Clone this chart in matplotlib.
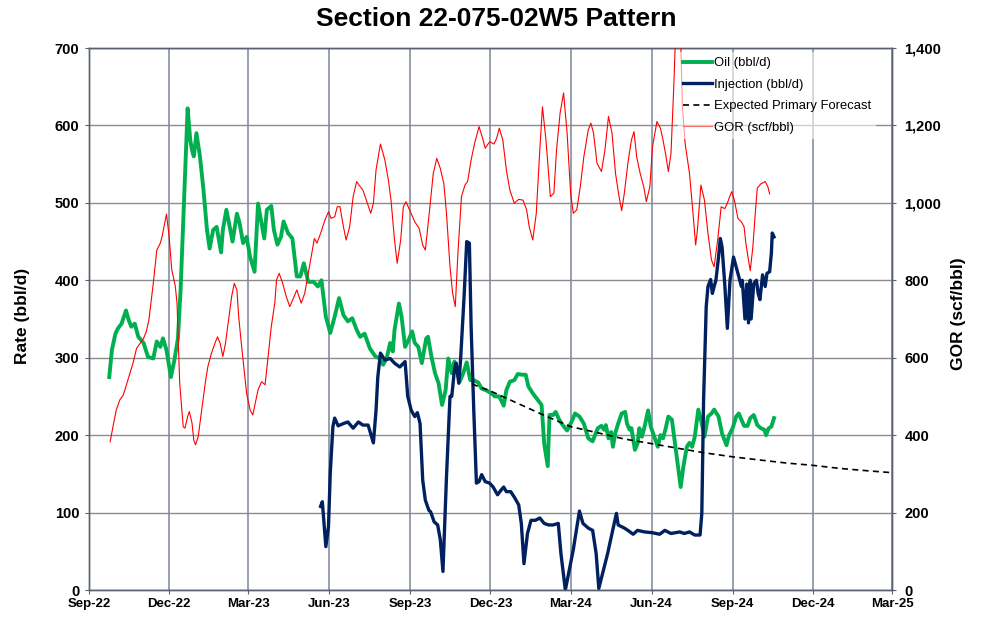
import matplotlib
matplotlib.use('Agg')
import matplotlib.pyplot as plt
import matplotlib.dates as mdates
from matplotlib.ticker import FuncFormatter, MultipleLocator
import pandas as pd

plt.rcParams['font.family'] = ['Liberation Sans', 'DejaVu Sans']

# ---- data (x values are days since 2022-09-01) ----
START = '2022-09-01'

oil_days = [23, 26, 30, 33, 37, 42, 45, 48, 52, 56,
            62, 67, 73, 77, 81, 84, 88, 93, 97, 101,
            104, 107, 110, 112, 115, 117, 119, 122, 126, 130,
            134, 137, 141, 145, 150, 152, 156, 159, 163, 168,
            171, 175, 179, 183, 188, 192, 199, 202, 207, 210,
            214, 218, 221, 226, 231, 236, 240, 244, 249, 255,
            260, 264, 269, 274, 279, 284, 289, 294, 299, 304,
            308, 313, 319, 325, 330, 334, 338, 342, 345, 347,
            352, 355, 359, 363, 367, 370, 374, 378, 383, 385,
            389, 393, 397, 401, 405, 408, 412, 415, 417, 421,
            425, 429, 433, 437, 442, 446, 451, 457, 461, 466,
            471, 474, 478, 483, 487, 492, 496, 499, 504, 510,
            514, 517, 521, 523, 527, 530, 534, 538, 543, 548,
            552, 557, 562, 567, 572, 576, 578, 582, 585, 587,
            590, 593, 595, 598, 601, 605, 609, 611, 614, 616,
            620, 623, 625, 628, 631, 635, 638, 642, 646, 649,
            652, 655, 658, 662, 665, 669, 672, 675, 679, 682,
            685, 688, 692, 695, 699, 703, 707, 710, 715, 719,
            724, 727, 731, 735, 738, 741, 744, 748, 751, 755,
            759, 763, 767, 769, 772, 775, 778]
oil_rate = [275, 310, 331, 338, 344, 361, 349, 340, 344, 327,
            319, 301, 299, 321, 314, 325, 310, 275, 297, 325,
            387, 474, 560, 622, 581, 568, 560, 590, 560, 517,
            465, 441, 465, 469, 436, 465, 491, 474, 450, 486,
            474, 448, 456, 430, 411, 499, 454, 491, 496, 465,
            446, 456, 476, 461, 454, 405, 405, 422, 398, 398,
            392, 400, 353, 332, 353, 377, 355, 347, 351, 336,
            327, 331, 312, 302, 299, 291, 299, 319, 308, 336,
            370, 353, 314, 323, 334, 319, 314, 293, 325, 327,
            301, 280, 267, 239, 258, 299, 280, 295, 288, 269,
            280, 294, 271, 271, 268, 260, 258, 254, 250, 250,
            238, 258, 269, 271, 279, 278, 278, 263, 254, 245,
            239, 189, 160, 226, 226, 230, 220, 213, 206, 217,
            228, 224, 215, 196, 192, 204, 209, 212, 207, 213,
            196, 204, 185, 204, 215, 228, 230, 215, 207, 209,
            181, 189, 209, 198, 211, 232, 211, 198, 185, 200,
            196, 209, 224, 220, 194, 159, 133, 159, 185, 190,
            185, 198, 233, 220, 198, 224, 228, 233, 224, 202,
            187, 200, 209, 224, 228, 220, 212, 212, 222, 226,
            213, 209, 207, 200, 209, 211, 222]

inj_days = [263, 265, 269, 272, 274, 277, 279, 283, 289, 294,
            300, 306, 311, 317, 323, 326, 328, 331, 336, 342,
            347, 353, 359, 362, 366, 370, 373, 376, 379, 382,
            386, 388, 392, 396, 399, 402, 406, 410, 412, 415,
            417, 420, 422, 426, 429, 432, 434, 437, 440, 443,
            446, 450, 455, 459, 464, 468, 471, 474, 479, 483,
            488, 491, 494, 498, 502, 507, 512, 517, 522, 527,
            533, 536, 541, 550, 557, 561, 567, 572, 576, 579,
            589, 599, 601, 608, 612, 618, 623, 631, 640, 648,
            654, 661, 671, 676, 682, 688, 694, 696, 698, 701,
            703, 706, 708, 710, 712, 715, 717, 719, 722, 725,
            728, 732, 737, 741, 742, 745, 747, 749, 751, 752,
            755, 758, 760, 762, 765, 768, 770, 773, 775, 776,
            778]
inj_rate = [108, 114, 56, 82, 151, 211, 222, 212, 215, 217,
            209, 217, 213, 213, 190, 232, 275, 306, 297, 299,
            293, 288, 295, 250, 232, 224, 229, 215, 142, 116,
            103, 101, 88, 84, 65, 24, 146, 250, 250, 284,
            293, 267, 297, 379, 450, 448, 340, 232, 138, 140,
            149, 140, 138, 133, 123, 129, 133, 127, 127, 120,
            110, 86, 34, 73, 90, 90, 93, 86, 84, 84,
            86, 47, 0, 52, 102, 86, 80, 77, 47, 2,
            47, 99, 84, 80, 77, 72, 77, 75, 74, 72,
            77, 73, 75, 73, 75, 71, 71, 99, 245, 366,
            392, 401, 383, 392, 400, 430, 454, 443, 396, 338,
            400, 430, 409, 392, 400, 350, 395, 345, 400, 350,
            396, 400, 383, 375, 407, 392, 409, 411, 435, 461,
            456]

fc_days = [435, 456, 487, 518, 547, 578, 608, 639, 669, 700,
           731, 761, 792, 822, 853, 884, 912]
fc_rate = [266, 257, 241, 225, 211, 203, 195, 189, 183, 177,
           172, 168, 164, 161, 157, 154, 151.5]

gor_days = [24, 28, 31, 35, 39, 43, 47, 50, 54, 58,
            62, 65, 68, 73, 77, 81, 83, 86, 88, 91,
            94, 98, 100, 103, 107, 109, 112, 114, 117, 119,
            121, 124, 128, 132, 135, 139, 143, 146, 149, 152,
            155, 158, 162, 165, 168, 170, 173, 175, 179, 183,
            186, 188, 192, 196, 200, 203, 207, 211, 213, 216,
            220, 224, 228, 232, 236, 241, 245, 249, 253, 256,
            259, 263, 268, 272, 275, 279, 282, 285, 289, 292,
            296, 300, 304, 308, 311, 315, 320, 323, 326, 331,
            336, 340, 343, 347, 350, 354, 357, 360, 364, 370,
            375, 379, 382, 386, 391, 395, 399, 403, 406, 410,
            413, 416, 419, 423, 427, 430, 434, 438, 443, 447,
            450, 455, 460, 463, 466, 470, 474, 478, 483, 488,
            493, 497, 500, 504, 508, 512, 515, 519, 524, 528,
            531, 535, 539, 543, 547, 550, 554, 558, 562, 567,
            570, 573, 577, 582, 586, 590, 594, 598, 602, 605,
            608, 612, 616, 619, 622, 626, 630, 633, 637, 640,
            645, 649, 652, 655, 658, 661, 664, 666, 669, 672,
            674, 677, 682, 686, 689, 691, 695, 699, 703, 707,
            710, 714, 718, 722, 725, 727, 730, 733, 737, 741,
            744, 746, 749, 751, 754, 757, 759, 763, 768, 771,
            773]
gor_val = [383, 431, 465, 491, 504, 534, 564, 586, 624, 637,
           650, 667, 697, 792, 878, 896, 913, 947, 971, 913,
           827, 785, 740, 534, 422, 418, 448, 461, 431, 387,
           375, 396, 465, 534, 577, 611, 637, 654, 637, 603,
           637, 689, 758, 792, 775, 706, 637, 594, 508, 465,
           452, 474, 517, 538, 530, 594, 680, 741, 801, 818,
           792, 758, 732, 753, 775, 741, 766, 818, 870, 908,
           896, 921, 956, 977, 960, 964, 990, 990, 938, 904,
           938, 1016, 1055, 1042, 1033, 1007, 973, 999, 1085, 1152,
           1111, 1059, 1007, 904, 844, 904, 990, 1003, 982, 951,
           934, 891, 878, 964, 1076, 1115, 1089, 1050, 973, 835,
           766, 732, 870, 1016, 1046, 1055, 1111, 1154, 1197, 1167,
           1141, 1158, 1152, 1167, 1193, 1162, 1085, 1033, 999, 1009,
           1007, 982, 938, 904, 973, 1137, 1248, 1162, 1016, 1025,
           1137, 1231, 1284, 1180, 1025, 973, 982, 1042, 1119, 1188,
           1206, 1180, 1102, 1081, 1137, 1223, 1180, 1076, 1016, 980,
           1025, 1102, 1162, 1184, 1119, 1076, 1042, 1003, 1042, 1145,
           1210, 1193, 1162, 1124, 1081, 1128, 1292, 1420, 1650, 1420,
           1248, 1154, 1076, 973, 891, 930, 1046, 1007, 921, 852,
           835, 904, 990, 985, 999, 1012, 1029, 1007, 960, 951,
           938, 896, 852, 825, 887, 982, 1038, 1049, 1055, 1042,
           1023]

x_ticks = ['2022-09-01', '2022-12-01', '2023-03-01', '2023-06-01', '2023-09-01',
           '2023-12-01', '2024-03-01', '2024-06-01', '2024-09-01', '2024-12-01',
           '2025-03-01']


def to_dates(days):
    return pd.Timestamp(START) + pd.to_timedelta(days, unit='D')


fig = plt.figure(figsize=(9.93, 6.21), dpi=100)
ax = fig.add_axes([89 / 993, 1 - 590 / 621, 803 / 993, 542 / 621])
ax2 = ax.twinx()

h_oil, = ax.plot(to_dates(oil_days), oil_rate, color='#00B050', lw=2.8,
                 solid_joinstyle='round', zorder=3, label='Oil (bbl/d)')
h_inj, = ax.plot(to_dates(inj_days), inj_rate, color='#002060', lw=2.4,
                 solid_joinstyle='round', zorder=3.5, label='Injection (bbl/d)')
h_fc, = ax.plot(to_dates(fc_days), fc_rate, color='black', lw=1.2,
                dashes=(3.6, 2.6), zorder=4, label='Expected Primary Forecast')
h_gor, = ax2.plot(to_dates(gor_days), gor_val, color='#FF0000', lw=0.8,
                  zorder=3, label='GOR (scf/bbl)')

# axes limits and ticks
ax.set_xlim(pd.Timestamp(x_ticks[0]), pd.Timestamp(x_ticks[-1]))
ax.set_ylim(0, 700)
ax2.set_ylim(0, 1400)
ax.set_xticks([pd.Timestamp(t) for t in x_ticks])
ax.xaxis.set_major_formatter(mdates.DateFormatter('%b-%y'))
ax.yaxis.set_major_locator(MultipleLocator(100))
ax2.yaxis.set_major_locator(MultipleLocator(200))
ax2.yaxis.set_major_formatter(FuncFormatter(lambda v, p: f'{int(v):,}'))

ax.grid(axis='y', color='#8c8c8c', lw=1.0, zorder=0)
ax.grid(axis='x', color='#8e98a8', lw=1.3, zorder=0)
ax.set_axisbelow(True)

for a in (ax, ax2):
    for s in a.spines.values():
        s.set_color('#5a6270')
        s.set_linewidth(1.0)

ax.tick_params(axis='x', direction='out', length=3, pad=3, labelsize=9.5,
               color='#5a6270')
ax.tick_params(axis='y', direction='out', length=3, pad=4, labelsize=10.5,
               color='#5a6270')
ax2.tick_params(axis='y', direction='out', length=3, pad=6, labelsize=10.5,
                color='#5a6270')
for lab in ax.get_xticklabels() + ax.get_yticklabels() + ax2.get_yticklabels():
    lab.set_fontweight('bold')

fig.text(0.5, 1 - 19 / 621, 'Section 22-075-02W5 Pattern', ha='center',
         va='center', fontsize=19, fontweight='bold')
fig.text(23 / 993, 1 - 316 / 621, 'Rate (bbl/d)', rotation=90, ha='center',
         va='center', fontsize=12.5, fontweight='bold')
fig.text(958 / 993, 1 - 314 / 621, 'GOR (scf/bbl)', rotation=90, ha='center',
         va='center', fontsize=12.5, fontweight='bold')

leg = ax2.legend(handles=[h_oil, h_inj, h_fc, h_gor], loc='upper left',
                 bbox_to_anchor=(0.733, 0.993), borderaxespad=0, borderpad=0.4,
                 fontsize=9.4, handlelength=2.25, handletextpad=0.1,
                 labelspacing=0.72, frameon=True, fancybox=False,
                 framealpha=0.6, facecolor='white', edgecolor='none')
leg.get_lines()[3].set_alpha(0.55)

fig.savefig('out.png', dpi=100)
